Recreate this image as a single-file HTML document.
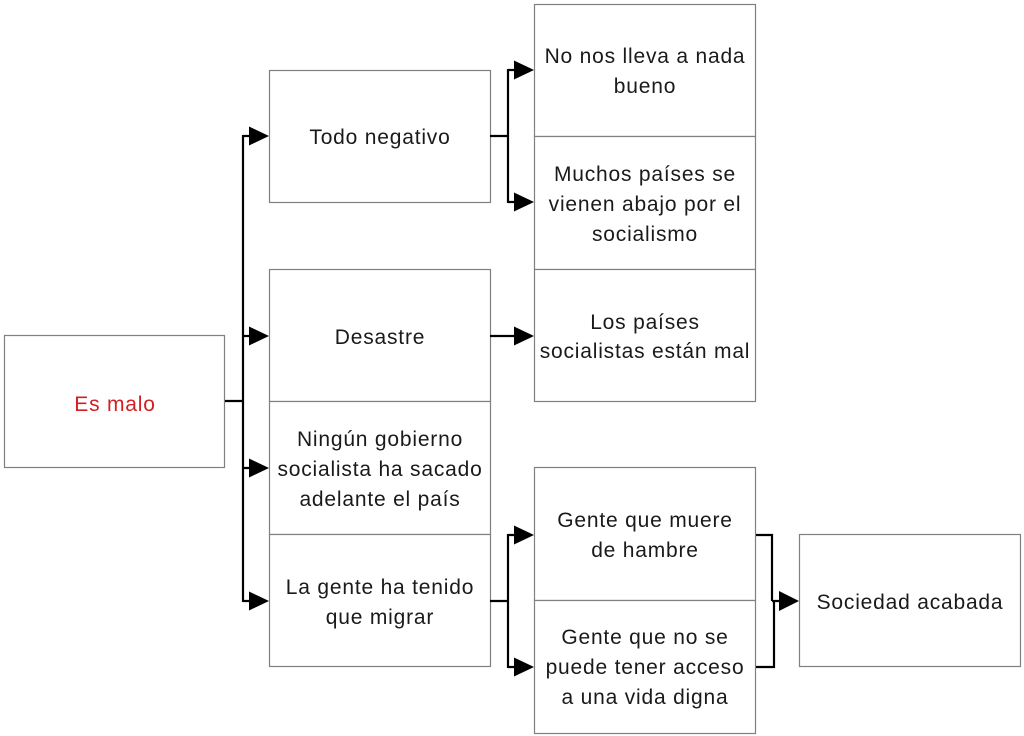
<!DOCTYPE html>
<html><head><meta charset="utf-8"><style>
html,body{margin:0;padding:0;background:#fff;}
svg{display:block;}
text{font-family:"Liberation Sans",sans-serif;font-size:21px;letter-spacing:0.8px;fill:#1a1a1a;text-anchor:middle;}
</style></head><body>
<svg width="1024" height="736" viewBox="0 0 1024 736" xmlns="http://www.w3.org/2000/svg">
<g fill="#fff" stroke="#808080" stroke-width="1.2">
<rect x="4.5" y="335.5" width="220" height="132"/>
<rect x="269.5" y="70.5" width="221" height="132"/>
<rect x="269.5" y="269.5" width="221" height="132"/>
<rect x="269.5" y="401.5" width="221" height="133"/>
<rect x="269.5" y="534.5" width="221" height="132"/>
<rect x="534.5" y="4.5" width="221" height="132"/>
<rect x="534.5" y="136.5" width="221" height="133"/>
<rect x="534.5" y="269.5" width="221" height="132"/>
<rect x="534.5" y="467.5" width="221" height="133"/>
<rect x="534.5" y="600.5" width="221" height="133"/>
<rect x="799.5" y="534.5" width="221" height="132"/>
</g>
<g fill="none" stroke="#000" stroke-width="2.2">
<path d="M225 401H243M243 135V602M243 136H252M243 336H252M243 468H252M243 601H252"/>
<path d="M490 136H508M508 69V203M508 70H516M508 202H516"/>
<path d="M490 336H516"/>
<path d="M490 601H508M508 534V668M508 535H516M508 667H516"/>
<path d="M756 535H772V601M756 667H774V600M772 601H781"/>
</g>
<g fill="#000">
<polygon points="249,126.5 269,136 249,145.5"/>
<polygon points="249,326.5 269,336 249,345.5"/>
<polygon points="249,458.5 269,468 249,477.5"/>
<polygon points="249,591.5 269,601 249,610.5"/>
<polygon points="514,60.5 534,70 514,79.5"/>
<polygon points="514,192.5 534,202 514,211.5"/>
<polygon points="514,326.5 534,336 514,345.5"/>
<polygon points="514,525.5 534,535 514,544.5"/>
<polygon points="514,657.5 534,667 514,676.5"/>
<polygon points="779,591 799,601 779,611"/>
</g>
<text x="115" y="411" style="fill:#d21f1f">Es malo</text>
<text x="380" y="144">Todo negativo</text>
<text x="380" y="344">Desastre</text>
<text x="380" y="446">Ningún gobierno</text>
<text x="380" y="476">socialista ha sacado</text>
<text x="380" y="506">adelante el país</text>
<text x="380" y="594">La gente ha tenido</text>
<text x="380" y="624">que migrar</text>
<text x="645" y="63">No nos lleva a nada</text>
<text x="645" y="93">bueno</text>
<text x="645" y="181">Muchos países se</text>
<text x="645" y="211">vienen abajo por el</text>
<text x="645" y="241">socialismo</text>
<text x="645" y="329">Los países</text>
<text x="645" y="358">socialistas están mal</text>
<text x="645" y="527">Gente que muere</text>
<text x="645" y="557">de hambre</text>
<text x="645" y="644">Gente que no se</text>
<text x="645" y="674">puede tener acceso</text>
<text x="645" y="704">a una vida digna</text>
<text x="910" y="609">Sociedad acabada</text>
</svg>
</body></html>
